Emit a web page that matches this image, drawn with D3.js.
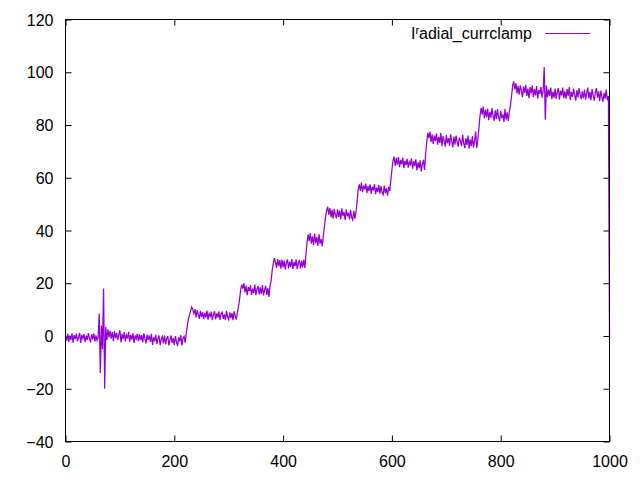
<!DOCTYPE html>
<html>
<head>
<meta charset="utf-8">
<script src="https://cdnjs.cloudflare.com/ajax/libs/d3/7.8.5/d3.min.js"></script>
<style>
  html, body { margin: 0; padding: 0; background: #fff; }
  svg { display: block; }
  text { font-family: "Liberation Sans", Arial, sans-serif; }
</style>
</head>
<body>
<svg id="chart" width="640" height="480"></svg>
<script>
// ---- data ----
const seriesName = "radial_currclamp";
const xStep = 2; // sample spacing in x units (x = index * xStep)
const seriesValues = [
  0.5, -1.8, 0.8, -2.2, 0.2, -1.5, 1.0, -2.5, 0.3, -1.2,
  0.9, -2.0, -0.5, 1.2, -2.6, 0.4, -1.0, 0.7, -2.3, 0.1,
  -1.6, 1.1, -0.8, -2.4, 0.6, -1.3, 1.0, -2.1, 0.2, -1.7,
  -0.5, 8.5, -14.0, 4.0, -5.0, 18.0, -20.0, 3.5, -1.5, 2.5,
  -0.5, 2.0, -1.0, 1.5, -2.0, 1.8, -0.8, 1.2, -1.5, 0.5,
  2.2, -2.4, 0.8, -1.2, 1.5, -2.0, 0.3, -0.9, 1.6, -2.2,
  0.4, -1.4, 1.0, -2.6, 0.2, -1.1, 0.9, -2.0, 0.6, -1.6,
  0.3, -2.4, 1.0, -1.0, -2.8, 0.5, -1.5, 0.2, -2.2, 0.8,
  -3.4, -0.5, -2.0, 0.4, -3.0, -1.0, 0.2, -3.5, -1.2, -0.2,
  -2.8, 0.3, -3.2, -1.0, 0.0, -3.6, -1.5, 0.2, -2.6, -0.8,
  -3.4, 0.0, -2.2, -3.8, -0.5, -2.0, 0.3, -3.6, -1.0, -0.2,
  -2.5, 1.0, 4.0, 6.5, 8.0, 9.5, 11.0, 10.0, 8.5, 10.2,
  7.0, 9.8, 8.2, 6.5, 9.5, 7.2, 9.0, 6.4, 8.8, 7.0,
  9.6, 6.2, 8.5, 7.4, 9.2, 6.0, 8.0, 9.4, 6.3, 8.6,
  7.0, 9.3, 6.1, 8.4, 9.0, 6.5, 8.2, 6.0, 9.5, 7.2,
  6.2, 9.0, 6.8, 8.7, 6.0, 9.4, 7.5, 6.2, 9.0, 11.0,
  14.0, 17.5, 19.5, 18.0, 20.0, 16.5, 19.0, 15.5, 18.5, 17.0,
  19.2, 15.6, 18.0, 16.2, 19.5, 15.5, 17.8, 19.0, 15.8, 18.4,
  16.0, 19.3, 15.4, 17.5, 19.0, 15.6, 18.2, 14.8, 19.0, 21.0,
  25.0, 27.5, 29.5, 28.0, 25.8, 29.2, 26.5, 28.8, 25.5, 29.0,
  26.0, 28.6, 25.2, 27.8, 29.0, 25.6, 28.2, 26.2, 29.2, 25.4,
  28.0, 26.5, 29.0, 25.3, 27.6, 28.8, 25.5, 28.5, 26.0, 29.0,
  25.8, 31.0, 35.5, 38.5, 36.0, 39.0, 35.0, 37.8, 34.5, 38.8,
  35.2, 37.5, 34.2, 38.6, 35.0, 36.8, 34.0, 38.0, 41.5, 45.0,
  47.5, 49.0, 46.0, 48.5, 45.0, 47.8, 44.5, 48.2, 46.0, 44.6,
  48.0, 45.2, 47.5, 44.2, 48.4, 45.6, 47.0, 44.0, 48.0, 45.4,
  46.8, 44.2, 47.8, 45.0, 44.0, 47.5, 44.5, 47.0, 51.0, 55.5,
  57.5, 55.0, 58.2, 54.5, 57.0, 55.6, 57.8, 54.2, 56.8, 55.0,
  57.5, 54.0, 56.5, 55.2, 57.6, 53.8, 56.2, 54.6, 57.2, 54.0,
  56.8, 54.4, 53.6, 57.0, 54.2, 56.0, 53.2, 56.5, 55.0, 59.0,
  63.0, 66.5, 68.0, 64.5, 67.5, 65.0, 67.8, 64.0, 66.8, 65.2,
  67.6, 63.6, 66.4, 64.8, 67.2, 63.8, 66.0, 65.0, 67.4, 63.4,
  66.2, 64.4, 67.0, 62.8, 65.8, 63.6, 66.6, 62.4, 65.0, 66.8,
  63.0, 69.0, 73.5, 77.0, 75.0, 77.5, 73.5, 76.5, 72.8, 76.0,
  74.0, 76.8, 72.5, 75.5, 73.2, 77.0, 72.0, 75.8, 74.0, 71.8,
  76.2, 73.0, 75.0, 72.2, 76.5, 73.8, 71.5, 75.6, 72.6, 76.0,
  73.4, 71.8, 75.2, 74.0, 72.0, 76.4, 73.0, 71.2, 75.0, 72.4,
  76.0, 71.0, 74.6, 72.0, 75.8, 71.4, 74.0, 77.5, 71.2, 74.5,
  79.0, 83.5, 86.5, 84.0, 87.0, 82.5, 85.8, 83.0, 86.2, 81.8,
  85.0, 82.8, 86.4, 83.5, 81.6, 85.6, 82.2, 86.0, 83.0, 81.4,
  85.4, 82.6, 84.0, 81.2, 86.0, 82.0, 84.8, 81.5, 85.2, 87.5,
  91.0, 95.0, 96.5, 93.5, 95.8, 92.0, 94.8, 91.5, 95.0, 93.0,
  90.5, 94.6, 92.2, 95.2, 91.0, 93.8, 90.2, 94.4, 92.0, 95.0,
  90.6, 93.6, 91.2, 94.8, 90.0, 93.2, 91.8, 94.5, 90.4, 93.0,
  102.0, 82.0, 95.0, 90.5, 93.5, 91.0, 94.2, 89.8, 92.6, 90.4,
  93.8, 90.0, 92.4, 94.0, 89.6, 93.0, 91.2, 94.2, 90.2, 92.8,
  90.0, 93.6, 91.0, 94.4, 89.4, 92.6, 90.6, 93.8, 91.4, 89.2,
  93.2, 90.4, 94.0, 91.6, 89.8, 92.8, 90.2, 93.4, 89.6, 92.0,
  94.2, 90.0, 92.6, 89.4, 93.6, 91.0, 89.2, 92.4, 94.0, 90.4,
  92.8, 89.0, 93.0, 90.6, 88.8, 92.2, 90.0, 93.4, 89.4, 91.0,
  0.0
];
const xTicks = [0, 200, 400, 600, 800, 1000];
const yTicks = [-40, -20, 0, 20, 40, 60, 80, 100, 120];
const xDomain = [0, 1000];
const yDomain = [-40, 120];

// ---- layout ----
const W = 640, H = 480;
const L = 65.5, R = 609.5, T = 19.5, B = 441.5;
const color = "#9400d3";
const tick = 6;

const svg = d3.select("#chart");
svg.append("rect").attr("width", W).attr("height", H).attr("fill", "#fff");

const x = d3.scaleLinear().domain(xDomain).range([L, R]);
const y = d3.scaleLinear().domain(yDomain).range([B, T]);

const fontSize = 16;
const fmt = d3.format("d");

// axes: left (with labels), bottom (with labels), mirrored right/top (ticks only)
const gl = svg.append("g").attr("transform", `translate(${L},0)`)
  .call(d3.axisLeft(y).tickValues(yTicks).tickFormat(fmt).tickSizeInner(-tick).tickSizeOuter(0).tickPadding(12));
const gb = svg.append("g").attr("transform", `translate(0,${B})`)
  .call(d3.axisBottom(x).tickValues(xTicks).tickFormat(fmt).tickSizeInner(-tick).tickSizeOuter(0).tickPadding(14));
const gr = svg.append("g").attr("transform", `translate(${R},0)`)
  .call(d3.axisRight(y).tickValues(yTicks).tickSizeInner(-tick).tickSizeOuter(0).tickFormat(""));
const gt = svg.append("g").attr("transform", `translate(0,${T})`)
  .call(d3.axisTop(x).tickValues(xTicks).tickSizeInner(-tick).tickSizeOuter(0).tickFormat(""));

[gl, gb, gr, gt].forEach(g => {
  g.select(".domain").remove();
  g.selectAll(".tick line").attr("stroke", "#000").attr("stroke-width", 1);
  g.selectAll("text").attr("fill", "#000")
    .style("font-family", '"Liberation Sans", Arial, sans-serif')
    .style("font-size", fontSize + "px");
});
gl.selectAll("text").attr("dy", "0.35em");
gb.selectAll("text").attr("dy", "0.71em");

// data line
const pts = seriesValues.map((v, i) => [i * xStep, v]);
const line = d3.line().x(d => x(d[0])).y(d => y(d[1]));
svg.append("path").datum(pts)
  .attr("d", line)
  .attr("fill", "none")
  .attr("stroke", color)
  .attr("stroke-width", 1.25)
  .attr("stroke-linejoin", "miter");

// border
svg.append("rect")
  .attr("x", L).attr("y", T).attr("width", R - L).attr("height", B - T)
  .attr("fill", "none").attr("stroke", "#000").attr("stroke-width", 1);

// legend
const lg = svg.append("g");
const lt = lg.append("text")
  .attr("x", 532).attr("y", 39)
  .attr("text-anchor", "end")
  .style("font-size", fontSize + "px")
  .attr("fill", "#000");
lt.append("tspan").text("I");
lt.append("tspan").attr("dy", -5).style("font-size", "11px").text("r");
lt.append("tspan").attr("dy", 5).text("adial_currclamp");
lg.append("line")
  .attr("x1", 545).attr("x2", 590).attr("y1", 33.5).attr("y2", 33.5)
  .attr("stroke", color).attr("stroke-width", 1);
</script>
</body>
</html>
